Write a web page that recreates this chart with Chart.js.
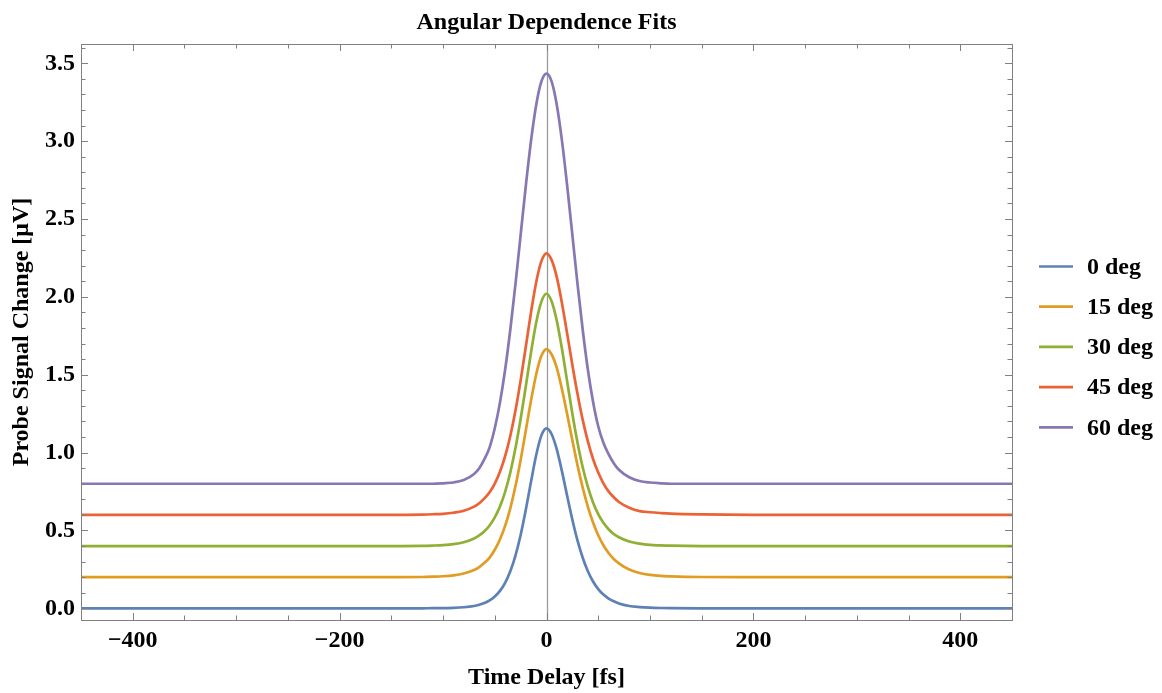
<!DOCTYPE html>
<html><head><meta charset="utf-8">
<script src="https://cdn.jsdelivr.net/npm/chart.js@4.4.0/dist/chart.umd.min.js"></script>
<style>html,body{margin:0;padding:0;background:#fff;}#wrap{width:1162px;height:693px;}</style>
</head><body><div id="wrap"><canvas id="c" width="1162" height="693"></canvas></div>
<script>
// ---- data ----
const timeDelay = [-450,-200,-150,-120,-110,-100,-90,-80,-70,-65,-60,-55,-50,-45,-40,-35,-30,-25,-20,-15,-10,-5,0,5,10,15,20,25,30,35,40,45,50,55,60,65,70,80,90,100,110,120,150,200,450];
const deg0  = [0,0,0,0,0.001,0.001,0.003,0.007,0.015,0.023,0.034,0.051,0.076,0.112,0.164,0.238,0.339,0.471,0.633,0.812,0.983,1.109,1.156,1.118,1.019,0.878,0.721,0.569,0.435,0.325,0.238,0.172,0.123,0.088,0.063,0.045,0.031,0.015,0.008,0.004,0.002,0.001,0,0,0];
const deg15 = [0.2,0.2,0.2,0.201,0.203,0.206,0.212,0.224,0.246,0.265,0.292,0.326,0.376,0.442,0.529,0.642,0.785,0.953,1.142,1.333,1.502,1.620,1.665,1.630,1.542,1.405,1.246,1.079,0.918,0.775,0.652,0.551,0.469,0.405,0.355,0.317,0.289,0.249,0.227,0.215,0.208,0.205,0.201,0.2,0.2];
const deg30 = [0.4,0.4,0.4,0.401,0.403,0.406,0.412,0.424,0.448,0.468,0.495,0.532,0.584,0.654,0.748,0.872,1.029,1.216,1.426,1.642,1.834,1.968,2.02,1.971,1.845,1.664,1.456,1.250,1.064,0.906,0.780,0.680,0.605,0.549,0.508,0.477,0.456,0.429,0.415,0.407,0.404,0.402,0.4,0.4,0.4];
const deg45 = [0.6,0.6,0.6,0.602,0.604,0.607,0.614,0.627,0.653,0.675,0.706,0.745,0.801,0.877,0.977,1.107,1.270,1.464,1.680,1.900,2.093,2.228,2.28,2.236,2.125,1.958,1.763,1.563,1.376,1.210,1.072,0.959,0.872,0.803,0.751,0.713,0.683,0.646,0.624,0.617,0.612,0.608,0.603,0.6,0.6];
const deg60 = [0.8,0.8,0.8,0.8,0.8,0.803,0.808,0.824,0.863,0.900,0.958,1.034,1.156,1.321,1.532,1.789,2.082,2.398,2.713,3.000,3.231,3.382,3.434,3.382,3.231,3.000,2.713,2.398,2.082,1.789,1.532,1.327,1.169,1.063,0.990,0.932,0.890,0.842,0.818,0.808,0.803,0.8,0.8,0.8,0.8];
const seriesLabels = ['0 deg','15 deg','30 deg','45 deg','60 deg'];
const xMajorTicks = [-400,-200,0,200,400];
const yMajorTicks = [0,0.5,1.0,1.5,2.0,2.5,3.0,3.5];

// ---- style ----
const colors = ['#5E81B5','#E19C24','#8FB032','#EB6235','#8778B3'];
const FONT = "'Liberation Serif','Times New Roman',serif";
const FS = 24;
const seriesValues = [deg0,deg15,deg30,deg45,deg60];

const datasets = seriesValues.map((vals,i)=>({
  label: seriesLabels[i],
  data: timeDelay.map((t,k)=>({x:t,y:vals[k]})),
  borderColor: colors[i],
  backgroundColor: colors[i],
  borderWidth: 2.7,
  borderJoinStyle: 'round',
  pointRadius: 0,
  fill: false,
  cubicInterpolationMode: 'monotone'
}));

const frameColor = '#808080';
const framePlugin = {
  id:'frame',
  beforeDatasetsDraw(chart){
    const {ctx, chartArea:a, scales:{x}} = chart;
    const px = Math.round(x.getPixelForValue(0))+0.5;
    ctx.save();
    ctx.strokeStyle = '#9a9a9a'; ctx.lineWidth = 1.3;
    ctx.beginPath(); ctx.moveTo(px, a.top); ctx.lineTo(px, a.bottom); ctx.stroke();
    ctx.restore();
  },
  afterDatasetsDraw(chart){
    const {ctx, chartArea:a, scales:{x,y}} = chart;
    ctx.save();
    ctx.strokeStyle = frameColor; ctx.lineWidth = 1;
    ctx.strokeRect(Math.round(a.left)+0.5, Math.round(a.top)+0.5, Math.round(a.right-a.left), Math.round(a.bottom-a.top));
    const tick = (x1,y1,x2,y2)=>{ctx.moveTo(x1,y1);ctx.lineTo(x2,y2);};
    ctx.beginPath();
    for (let v=-450; v<=450; v+=50){
      if (v<=x.min || v>=x.max) continue;
      const L = xMajorTicks.includes(v)?7:4.5;
      const p = Math.round(x.getPixelForValue(v))+0.5;
      tick(p,a.bottom,p,a.bottom-L); tick(p,a.top,p,a.top+L);
    }
    for (let k=0; k<=36; k++){
      const L = (k%5===0)?7:4.5;
      const p = Math.round(y.getPixelForValue(k/10))+0.5;
      tick(a.left,p,a.left+L,p); tick(a.right,p,a.right-L,p);
    }
    ctx.stroke();
    ctx.restore();
  },
  afterDraw(chart){
    const {ctx} = chart;
    ctx.save();
    ctx.font = "bold " + FS + "px " + FONT;
    ctx.textBaseline = 'middle';
    ctx.fillStyle = '#000';
    chart.data.datasets.forEach((ds,i)=>{
      const yy = 266.5 + i*40.2;
      ctx.strokeStyle = ds.borderColor; ctx.lineWidth = 2.7;
      ctx.beginPath(); ctx.moveTo(1039,yy); ctx.lineTo(1073,yy); ctx.stroke();
      ctx.fillText(ds.label, 1087, yy+1);
    });
    ctx.restore();
  }
};

const fnt = {family:FONT, size:FS, weight:'bold', lineHeight:1.2};
new Chart(document.getElementById('c'), {
  type:'line',
  data:{datasets},
  plugins:[framePlugin],
  options:{
    responsive:false, animation:false, devicePixelRatio:1,
    layout:{padding:{left:0,right:150,top:0,bottom:0}},
    plugins:{
      legend:{display:false},
      tooltip:{enabled:false},
      title:{display:true, text:'Angular Dependence Fits', fullSize:false, color:'#000',
        font:fnt, padding:{top:8.4,bottom:6.8}}
    },
    scales:{
      x:{type:'linear', min:-450, max:450,
        grid:{display:false, drawTicks:false, tickLength:0}, border:{display:false},
        afterBuildTicks(s){ s.ticks = xMajorTicks.map(v=>({value:v})); },
        afterFit(s){ s.height = 73; },
        ticks:{autoSkip:false, maxRotation:0, padding:6.6, color:'#000', font:fnt,
          callback:(v)=> v<0 ? '\u2212' + Math.abs(v) : String(v)},
        title:{display:true, text:'Time Delay [fs]', color:'#000', font:fnt, padding:{top:0,bottom:0.6}}
      },
      y:{type:'linear', min:-0.075, max:3.624,
        grid:{display:false, drawTicks:false, tickLength:0}, border:{display:false},
        afterBuildTicks(s){ s.ticks = yMajorTicks.map(v=>({value:v})); },
        afterFit(s){ s.width = 81; },
        ticks:{autoSkip:false, padding:6, color:'#000', font:fnt,
          callback:(v)=> Number(v).toFixed(1)},
        title:{display:true, text:'Probe Signal Change [\u03BCV]', color:'#000', font:fnt, padding:{top:7.6,bottom:0}}
      }
    }
  }
});
</script></body></html>
